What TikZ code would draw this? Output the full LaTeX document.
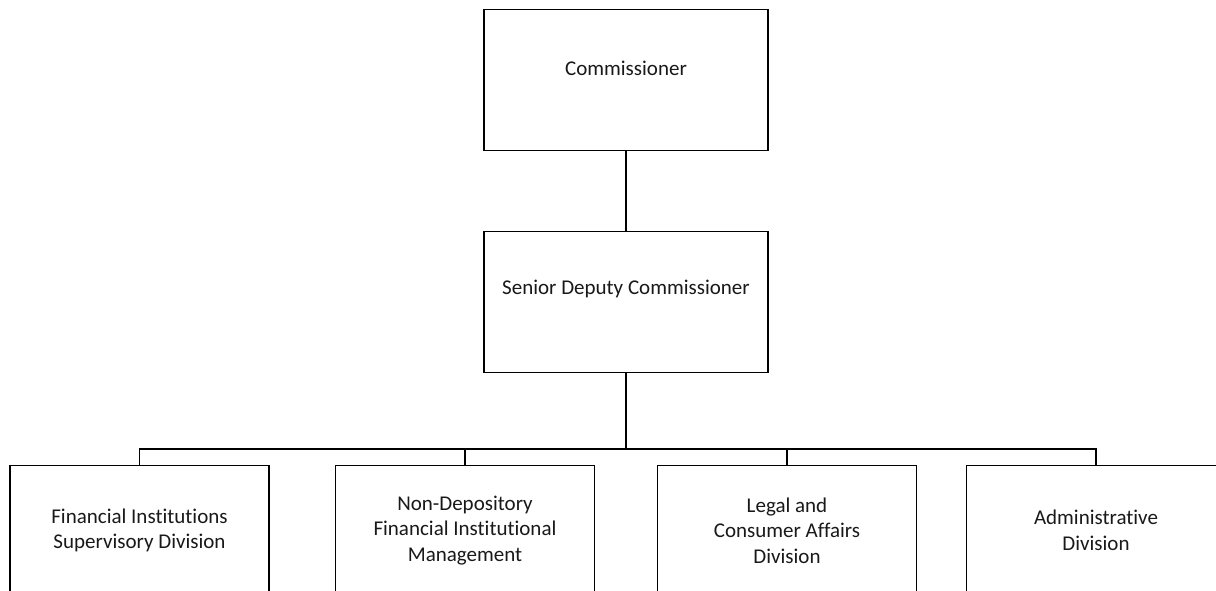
\documentclass[tikz,border=0pt]{standalone}
\usepackage{fontspec}
\setmainfont[Ligatures=NoCommon]{Carlito}
\begin{document}
\begin{tikzpicture}[x=1pt,y=-1pt,
  box/.style={draw=black, line width=1.4pt, fill=white, minimum width=259pt, minimum height=141pt, inner sep=0pt, anchor=north},
  topbox/.style={box, minimum width=284pt, minimum height=141pt},
  lbl/.style={font=\fontsize{21pt}{25.5pt}\selectfont, align=center, text=black!90, inner sep=0pt},
  conn/.style={draw=black, line width=1.4pt}]
\useasboundingbox (0,0) rectangle (1216,590);
\clip (0,0) rectangle (1216,590);
\fill[white] (0,0) rectangle (1216,590);
% boxes
\node[topbox] (com) at (626,9) {};
\node[topbox] (sdc) at (626,230.5) {};
\node[box] (fisd) at (139.5,465) {};
\node[box] (ndfi) at (465,465) {};
\node[box] (lcad) at (787,465) {};
\node[box] (admin) at (1096,465) {};
% labels
\node[lbl] (comT) at (626,68) {Commissioner};
\node[lbl] (sdcT) at (626,289) {Senior Deputy Commissioner};
\node[lbl] (fisdT) at (139.5,530.5) {Financial Institutions\\Supervisory Division};
\node[lbl] (ndfiT) at (465,530.5) {Non-Depository\\Financial Institutional\\Management};
\node[lbl] (lcadT) at (787,530.5) {Legal and\\Consumer Affairs\\Division};
\node[lbl] (adminT) at (1096,530.5) {Administrative\\Division};
% connectors
\coordinate (bar) at (626,449);
\draw[conn] (com.south) -- (sdc.north);
\draw[conn] (sdc.south) -- (bar);
\draw[conn] (fisd.north) |- (bar);
\draw[conn] (ndfi.north) |- (bar);
\draw[conn] (lcad.north) |- (bar);
\draw[conn] (admin.north) |- (bar);
\end{tikzpicture}
\end{document}
